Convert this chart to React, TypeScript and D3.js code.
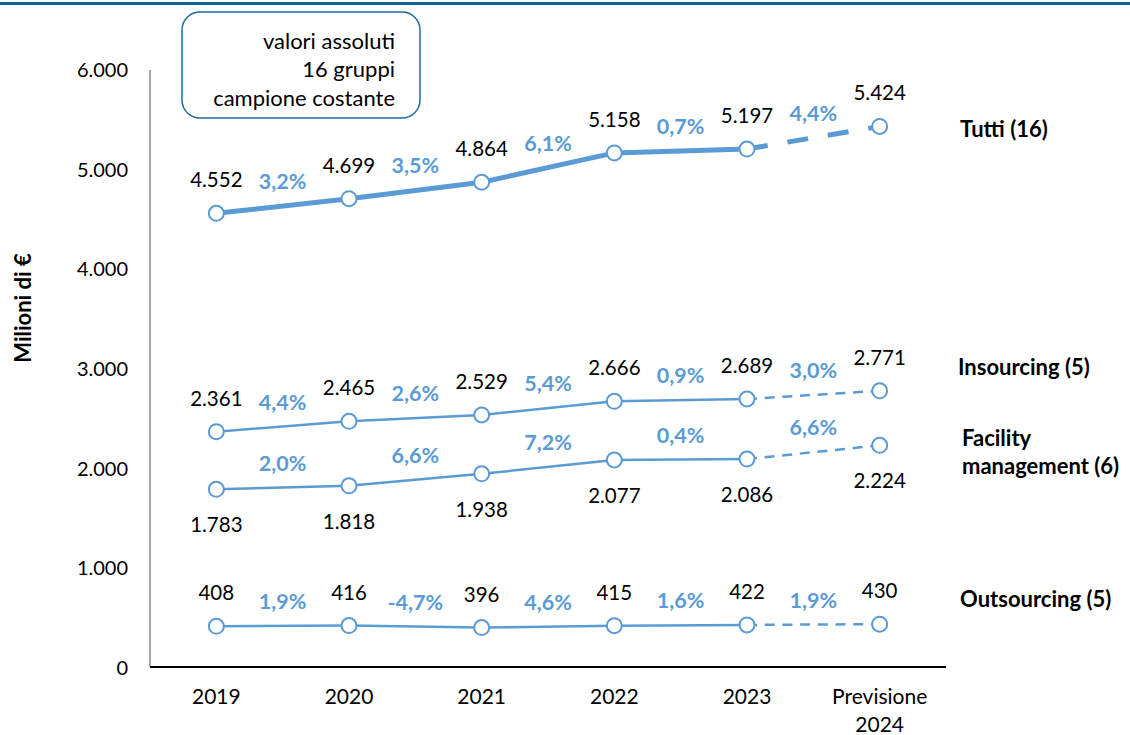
import React from "react";
import * as d3 from "d3";

const categories = ["2019", "2020", "2021", "2022", "2023", "Previsione\n2024"];
const tutti = [4552, 4699, 4864, 5158, 5197, 5424];
const insourcing = [2361, 2465, 2529, 2666, 2689, 2771];
const facility = [1783, 1818, 1938, 2077, 2086, 2224];
const outsourcing = [408, 416, 396, 415, 422, 430];
const tuttiPct = ["3,2%", "3,5%", "6,1%", "0,7%", "4,4%"];
const insourcingPct = ["4,4%", "2,6%", "5,4%", "0,9%", "3,0%"];
const facilityPct = ["2,0%", "6,6%", "7,2%", "0,4%", "6,6%"];
const outsourcingPct = ["1,9%", "-4,7%", "4,6%", "1,6%", "1,9%"];
const yTicks = [0, 1000, 2000, 3000, 4000, 5000, 6000];
const legendLines = ["valori assoluti", "16 gruppi", "campione costante"];

const BLUE = "#5b9bd5";
const FONT = "Lato, 'Open Sans', sans-serif";

const fmt = (v: number) => d3.format(",")(v).replace(/,/g, ".");

export default function App() {
  const W = 1130, H = 735;
  const x = d3.scaleBand<string>().domain(categories).range([150, 946]);
  const cx = (i: number) => (x(categories[i]) as number) + x.bandwidth() / 2;
  const y = d3.scaleLinear().domain([0, 6000]).range([667, 69]);

  const series = [
    { vals: tutti, pct: tuttiPct, width: 5, dash: "21 20", below: false, name: ["Tutti (16)"], lx: 960, ly: 128 },
    { vals: insourcing, pct: insourcingPct, width: 2.5, dash: "10 7.7", below: false, name: ["Insourcing (5)"], lx: 958, ly: 366 },
    { vals: facility, pct: facilityPct, width: 2.5, dash: "10 7.7", below: true, name: ["Facility", "management (6)"], lx: 962, ly: 437 },
    { vals: outsourcing, pct: outsourcingPct, width: 2.5, dash: "10 7.7", below: false, name: ["Outsourcing (5)"], lx: 960, ly: 598 },
  ];

  const solidLine = d3.line<number>().x((_, i) => cx(i)).y((d) => y(d));
  const forecastLine = d3.line<number>().x((_, i) => cx(i + 4)).y((d) => y(d));

  return (
    <svg width={W} height={H} style={{ position: "absolute", left: 0, top: 0, fontFamily: FONT }}>
      <rect x={0} y={0} width={W} height={H} fill="#fff" />
      <rect x={0} y={2} width={W} height={3} fill="#0b6396" />
      {/* legend box */}
      <rect x={182} y={12} width={238} height={106} rx={18} fill="#fff" stroke="#1f6b9c" strokeWidth={1.5} />
      {legendLines.map((t, i) => (
        <text key={t} x={395} y={40 + i * 28.5} textAnchor="end" dominantBaseline="central" fontSize={22} fill="#000">{t}</text>
      ))}
      {/* axes */}
      <line x1={150} x2={150} y1={70} y2={667} stroke="#a6a6a6" strokeWidth={2} />
      <line x1={150} x2={946} y1={667} y2={667} stroke="#000" strokeWidth={2} />
      {yTicks.map((t) => (
        <text key={t} x={128} y={y(t)} textAnchor="end" dominantBaseline="central" fontSize={20} fill="#000">{fmt(t)}</text>
      ))}
      {categories.map((c, i) =>
        c.split("\n").map((p, j) => (
          <text key={c + j} x={cx(i)} y={695 + j * 28} textAnchor="middle" dominantBaseline="central" fontSize={21} fill="#000">{p}</text>
        ))
      )}
      <text transform="translate(22,308) rotate(-90)" textAnchor="middle" dominantBaseline="central" fontSize={22} fontWeight="bold" fill="#000">Milioni di €</text>
      {/* series */}
      {series.map((s, k) => (
        <g key={k}>
          <path d={solidLine(s.vals.slice(0, 5)) as string} fill="none" stroke={BLUE} strokeWidth={s.width} />
          <path
            d={forecastLine(s.vals.slice(4)) as string}
            fill="none"
            stroke={BLUE}
            strokeWidth={s.width}
            strokeDasharray={s.dash}
          />
          {s.vals.map((v, i) => (
            <circle key={i} cx={cx(i)} cy={y(v)} r={7.5} fill="#fff" stroke={BLUE} strokeWidth={2} />
          ))}
          {s.vals.map((v, i) => (
            <text key={"v" + i} x={cx(i)} y={y(v) + (s.below ? 35 : -34)} textAnchor="middle" dominantBaseline="central" fontSize={20.5} fill="#000">{fmt(v)}</text>
          ))}
          {s.pct.map((p, i) => (
            <text key={"p" + i} x={(cx(i) + cx(i + 1)) / 2} y={(y(s.vals[i]) + y(s.vals[i + 1])) / 2 - 25} textAnchor="middle" dominantBaseline="central" fontSize={21.5} fontWeight="bold" fill={BLUE}>{p}</text>
          ))}
          {s.name.map((n, j) => (
            <text key={n} x={s.lx} y={s.ly + j * 28} dominantBaseline="central" fontSize={22} fontWeight="bold" fill="#000">{n}</text>
          ))}
        </g>
      ))}
    </svg>
  );
}
